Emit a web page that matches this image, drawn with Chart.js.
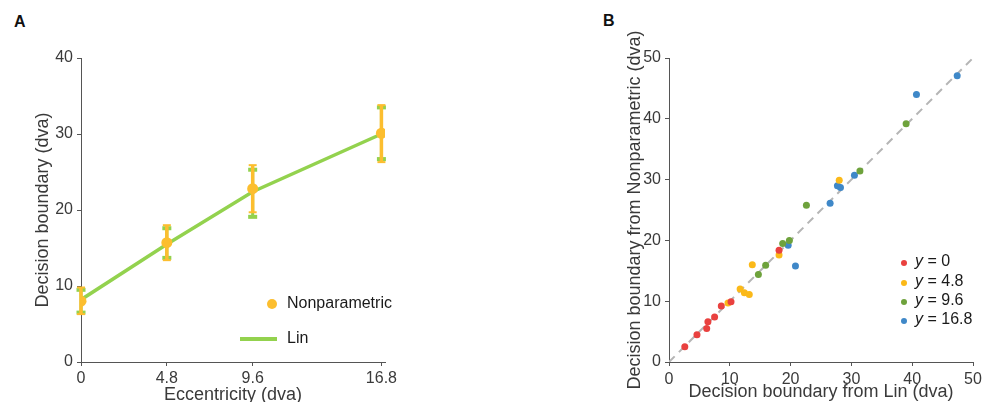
<!DOCTYPE html>
<html>
<head>
<meta charset="utf-8">
<script src="https://cdn.jsdelivr.net/npm/chart.js@4.4.1/dist/chart.umd.min.js"></script>
<style>
  html, body { margin: 0; padding: 0; background: #fff; }
  body { width: 995px; height: 402px; overflow: hidden; position: relative; font-family: 'Liberation Sans', Arial, sans-serif; }
  .panel-label { position: absolute; font-weight: bold; font-size: 16px; line-height: 16px; color: #111; }
  canvas { position: absolute; top: 0; }
</style>
</head>
<body>
<div class="panel-label" style="left:14px;top:14px">A</div>
<div class="panel-label" style="left:603px;top:13px">B</div>
<canvas id="chartA" width="430" height="412" style="left:0"></canvas>
<canvas id="chartB" width="395" height="412" style="left:600px"></canvas>
<script>
// ---- panel A data ----
const eccentricity = [0, 4.8, 9.6, 16.8];
const eccTickLabels = ['0', '4.8', '9.6', '16.8'];
const nonparamMean = [8.0, 15.7, 22.8, 30.1];
const nonparamLow = [6.3, 13.4, 19.7, 26.3];
const nonparamHigh = [9.8, 18.0, 25.9, 33.8];
const linMean = [8.2, 15.5, 22.4, 30.0];
const linLow = [6.5, 13.7, 19.1, 26.7];
const linHigh = [9.5, 17.6, 25.3, 33.5];

// ---- panel B data (x = Lin, y = Nonparametric) ----
const linY0 = [2.6, 4.6, 6.2, 6.4, 7.5, 8.6, 10.2, 18.1];
const npY0 = [2.5, 4.5, 5.5, 6.6, 7.4, 9.2, 9.9, 18.4];
const linY48 = [9.7, 11.7, 12.4, 13.2, 13.7, 18.1, 28.0];
const npY48 = [9.7, 12.0, 11.4, 11.1, 16.0, 17.6, 29.9];
const linY96 = [14.7, 15.9, 18.7, 19.8, 22.6, 31.4, 39.0];
const npY96 = [14.4, 15.9, 19.5, 20.0, 25.8, 31.4, 39.2];
const linY168 = [19.6, 20.8, 26.5, 27.7, 28.2, 30.5, 40.7, 47.4];
const npY168 = [19.2, 15.8, 26.1, 29.0, 28.7, 30.7, 44.0, 47.1];
const groupLabels = ['0', '4.8', '9.6', '16.8'];
const identityLine = [0, 50];

const ORANGE = '#fcbe2f';
const LIME = '#93d24e';
const groupColors = ['#e9413f', '#fbb919', '#6ea23c', '#3f88c8'];
const AXIS = '#555';
const TEXT = '#3a3a3a';

Chart.defaults.font.family = "'Liberation Sans', Arial, sans-serif";
Chart.defaults.color = TEXT;

const toXY = (xs, ys) => xs.map((x, i) => ({ x: x, y: ys[i] }));

function axis(min, max, step, opts) {
  return Object.assign({
    type: 'linear',
    min: min,
    max: max,
    border: { color: AXIS, width: 1 },
    grid: { drawOnChartArea: false, drawTicks: true, tickLength: 4, color: AXIS },
    ticks: { stepSize: step, font: { size: 16 }, color: TEXT, padding: 4 }
  }, opts);
}

// error bars drawn through the chart's own scales
function drawBars(chart, xs, lows, highs, color, lineW, capW, capH) {
  const { ctx, scales: { x, y } } = chart;
  ctx.save();
  ctx.strokeStyle = color;
  ctx.fillStyle = color;
  ctx.lineWidth = lineW;
  xs.forEach((v, i) => {
    const px = x.getPixelForValue(v);
    const top = y.getPixelForValue(highs[i]);
    const bot = y.getPixelForValue(lows[i]);
    ctx.beginPath();
    ctx.moveTo(px, top);
    ctx.lineTo(px, bot);
    ctx.stroke();
    ctx.fillRect(px - capW / 2, top - capH / 2, capW, capH);
    ctx.fillRect(px - capW / 2, bot - capH / 2, capW, capH);
  });
  ctx.restore();
}

const errorBars = {
  id: 'errorBars',
  beforeDatasetDraw(chart, args) {
    if (args.meta.label === 'Lin') {
      drawBars(chart, eccentricity, linLow, linHigh, LIME, 3, 9, 4);
    } else if (args.meta.label === 'Nonparametric') {
      drawBars(chart, eccentricity, nonparamLow, nonparamHigh, ORANGE, 3.5, 8, 2);
    }
  }
};

const legendA = {
  id: 'legendA',
  afterDraw(chart) {
    const ctx = chart.ctx;
    ctx.save();
    ctx.fillStyle = ORANGE;
    ctx.beginPath();
    ctx.arc(272, 304, 5, 0, Math.PI * 2);
    ctx.fill();
    ctx.strokeStyle = LIME;
    ctx.lineWidth = 4;
    ctx.beginPath();
    ctx.moveTo(240, 339);
    ctx.lineTo(277, 339);
    ctx.stroke();
    ctx.fillStyle = '#1a1a1a';
    ctx.font = "16px 'Liberation Sans', Arial, sans-serif";
    ctx.textBaseline = 'middle';
    ctx.fillText('Nonparametric', 287, 304);
    ctx.fillText('Lin', 287, 339);
    ctx.restore();
  }
};

const legendB = {
  id: 'legendB',
  afterDraw(chart) {
    const ctx = chart.ctx;
    const rows = [263, 283, 302, 321];
    ctx.save();
    ctx.textBaseline = 'middle';
    groupLabels.forEach((g, i) => {
      ctx.fillStyle = groupColors[i];
      ctx.beginPath();
      ctx.arc(304, rows[i], 3, 0, Math.PI * 2);
      ctx.fill();
      ctx.fillStyle = '#1a1a1a';
      ctx.font = "italic 16px 'Liberation Sans', Arial, sans-serif";
      ctx.fillText('y', 315, rows[i] - 1);
      const w = ctx.measureText('y').width;
      ctx.font = "16px 'Liberation Sans', Arial, sans-serif";
      ctx.fillText(' = ' + g, 315 + w, rows[i] - 1);
    });
    ctx.restore();
  }
};

new Chart(document.getElementById('chartA'), {
  type: 'scatter',
  data: {
    datasets: [
      {
        label: 'Nonparametric',
        data: toXY(eccentricity, nonparamMean),
        backgroundColor: ORANGE,
        borderWidth: 0,
        pointRadius: 5.5,
        order: 1
      },
      {
        label: 'Lin',
        type: 'line',
        data: toXY(eccentricity, linMean),
        borderColor: LIME,
        borderWidth: 3.5,
        pointRadius: 0,
        fill: false,
        order: 2
      }
    ]
  },
  options: {
    responsive: false,
    animation: false,
    layout: { padding: { top: 58, right: 45, left: 0, bottom: 0 } },
    plugins: { legend: { display: false }, tooltip: { enabled: false } },
    scales: {
      x: axis(0, 17, 4.8, {
        afterBuildTicks: s => { s.ticks = eccentricity.map(v => ({ value: v })); },
        afterFit: s => { s.height = 50; },
        ticks: { font: { size: 16 }, color: TEXT, padding: 3, callback: (v, i) => eccTickLabels[i] },
        title: { display: true, text: 'Eccentricity (dva)', font: { size: 18 }, color: TEXT, padding: { top: 0, bottom: 6 } }
      }),
      y: axis(0, 40, 10, {
        afterFit: s => { s.width = 81; },
        title: { display: true, text: 'Decision boundary (dva)', font: { size: 18 }, color: TEXT, padding: { top: 32, bottom: 0 } }
      })
    }
  },
  plugins: [errorBars, legendA]
});

new Chart(document.getElementById('chartB'), {
  type: 'scatter',
  data: {
    datasets: [
      { label: 'y = 0', data: toXY(linY0, npY0), backgroundColor: groupColors[0], pointRadius: 3.5, borderWidth: 0, order: 1 },
      { label: 'y = 4.8', data: toXY(linY48, npY48), backgroundColor: groupColors[1], pointRadius: 3.5, borderWidth: 0, order: 1 },
      { label: 'y = 9.6', data: toXY(linY96, npY96), backgroundColor: groupColors[2], pointRadius: 3.5, borderWidth: 0, order: 1 },
      { label: 'y = 16.8', data: toXY(linY168, npY168), backgroundColor: groupColors[3], pointRadius: 3.5, borderWidth: 0, order: 1 },
      {
        label: 'identity',
        type: 'line',
        data: toXY(identityLine, identityLine),
        borderColor: '#b5b5b5',
        borderWidth: 2,
        borderDash: [8, 6],
        pointRadius: 0,
        fill: false,
        order: 5
      }
    ]
  },
  options: {
    responsive: false,
    animation: false,
    layout: { padding: { top: 58, right: 22, left: 0, bottom: 0 } },
    plugins: { legend: { display: false }, tooltip: { enabled: false } },
    scales: {
      x: axis(0, 50, 10, {
        afterFit: s => { s.height = 50; },
        title: { display: true, text: 'Decision boundary from Lin (dva)', font: { size: 18 }, color: TEXT, padding: { top: 0, bottom: 9 } }
      }),
      y: axis(0, 50, 10, {
        afterFit: s => { s.width = 69; },
        title: { display: true, text: 'Decision boundary from Nonparametric (dva)', font: { size: 18 }, color: TEXT, padding: { top: 24, bottom: 0 } }
      })
    }
  },
  plugins: [legendB]
});
</script>
</body>
</html>
